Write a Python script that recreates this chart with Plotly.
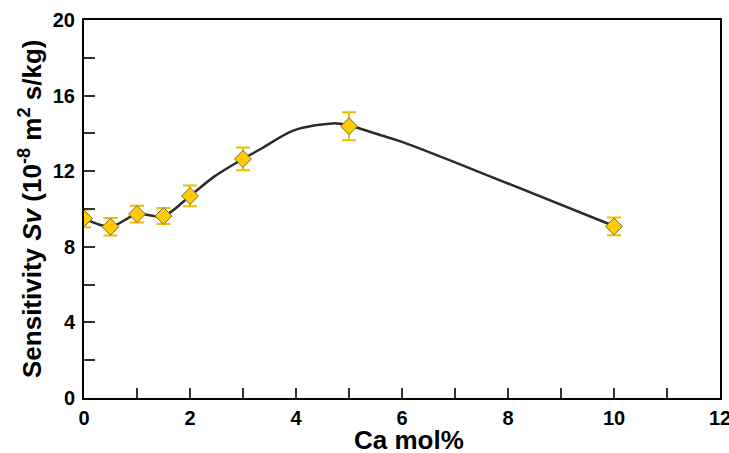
import plotly.graph_objects as go

ca_mol = [0, 0.5, 1, 1.5, 2, 3, 5, 10]
sensitivity = [9.5, 9.06, 9.73, 9.63, 10.69, 12.65, 14.38, 9.08]
err = [0.47, 0.46, 0.44, 0.42, 0.55, 0.6, 0.74, 0.47]

curve_x = [0, 0.5, 1, 1.5, 2, 2.45, 3, 3.35, 3.95, 4.7, 5, 5.6, 6, 8, 10]
curve_y = [9.5, 9.06, 9.73, 9.63, 10.69, 11.7, 12.65, 13.2, 14.15, 14.53, 14.42, 13.9, 13.55, 11.35, 9.1]

fig = go.Figure()
fig.add_trace(go.Scatter(
    x=curve_x, y=curve_y, mode="lines",
    line=dict(color="#2b2b2b", width=2.5, shape="spline", smoothing=0.9),
    hoverinfo="skip", showlegend=False))
fig.add_trace(go.Scatter(
    x=ca_mol, y=sensitivity, mode="markers",
    marker=dict(symbol="diamond", size=13, color="#FFCC00",
                line=dict(color="#7a6a30", width=1)),
    error_y=dict(type="data", array=err, visible=True, color="#EDBE00",
                 thickness=2, width=7),
    showlegend=False))

font = "Liberation Sans, Arial, sans-serif"
fig.update_layout(
    width=729, height=453,
    margin=dict(l=84, r=9, t=20, b=55),
    plot_bgcolor="white", paper_bgcolor="white",
    font=dict(family=font, color="black"),
    xaxis=dict(
        range=[0, 12], dtick=2, tick0=0, automargin=False,
        showgrid=False, zeroline=False,
        showline=True, linecolor="black", linewidth=2, mirror=True,
        ticks="inside", ticklen=10, tickwidth=2, tickcolor="#333",
        minor=dict(dtick=1, ticks="inside", ticklen=10, tickwidth=2, tickcolor="#333"),
        tickfont=dict(size=20, family=font, weight="bold"),
        ticklabelstandoff=1, ticklabeloverflow="allow",
    ),
    yaxis=dict(
        range=[0, 20], dtick=4, tick0=0, automargin=False,
        showgrid=False, zeroline=False,
        showline=True, linecolor="black", linewidth=2, mirror=True,
        ticks="inside", ticklen=11, tickwidth=2, tickcolor="#333",
        minor=dict(dtick=2, ticks="inside", ticklen=11, tickwidth=2, tickcolor="#333"),
        tickfont=dict(size=20, family=font, weight="bold"),
        ticklabelstandoff=3, ticklabeloverflow="allow",
    ),
    annotations=[
        dict(text="<b>Ca mol%</b>", xref="paper", yref="paper", x=0.5, y=0,
             xanchor="center", yanchor="middle", xshift=7, yshift=-42,
             showarrow=False, font=dict(size=26, family=font, color="black")),
        dict(text="<b>Sensitivity <i>Sv</i> (10<sup>-8</sup> m<sup>2</sup> s/kg)</b>",
             xref="paper", yref="paper", x=0, y=0.5, textangle=-90,
             xanchor="center", yanchor="middle", xshift=-54,
             showarrow=False, font=dict(size=26, family=font, color="black")),
    ],
)
fig.write_html(
    "out.html",
    config={"displayModeBar": False},
    post_script="document.body.style.margin='0';document.body.style.overflow='hidden';",
)
